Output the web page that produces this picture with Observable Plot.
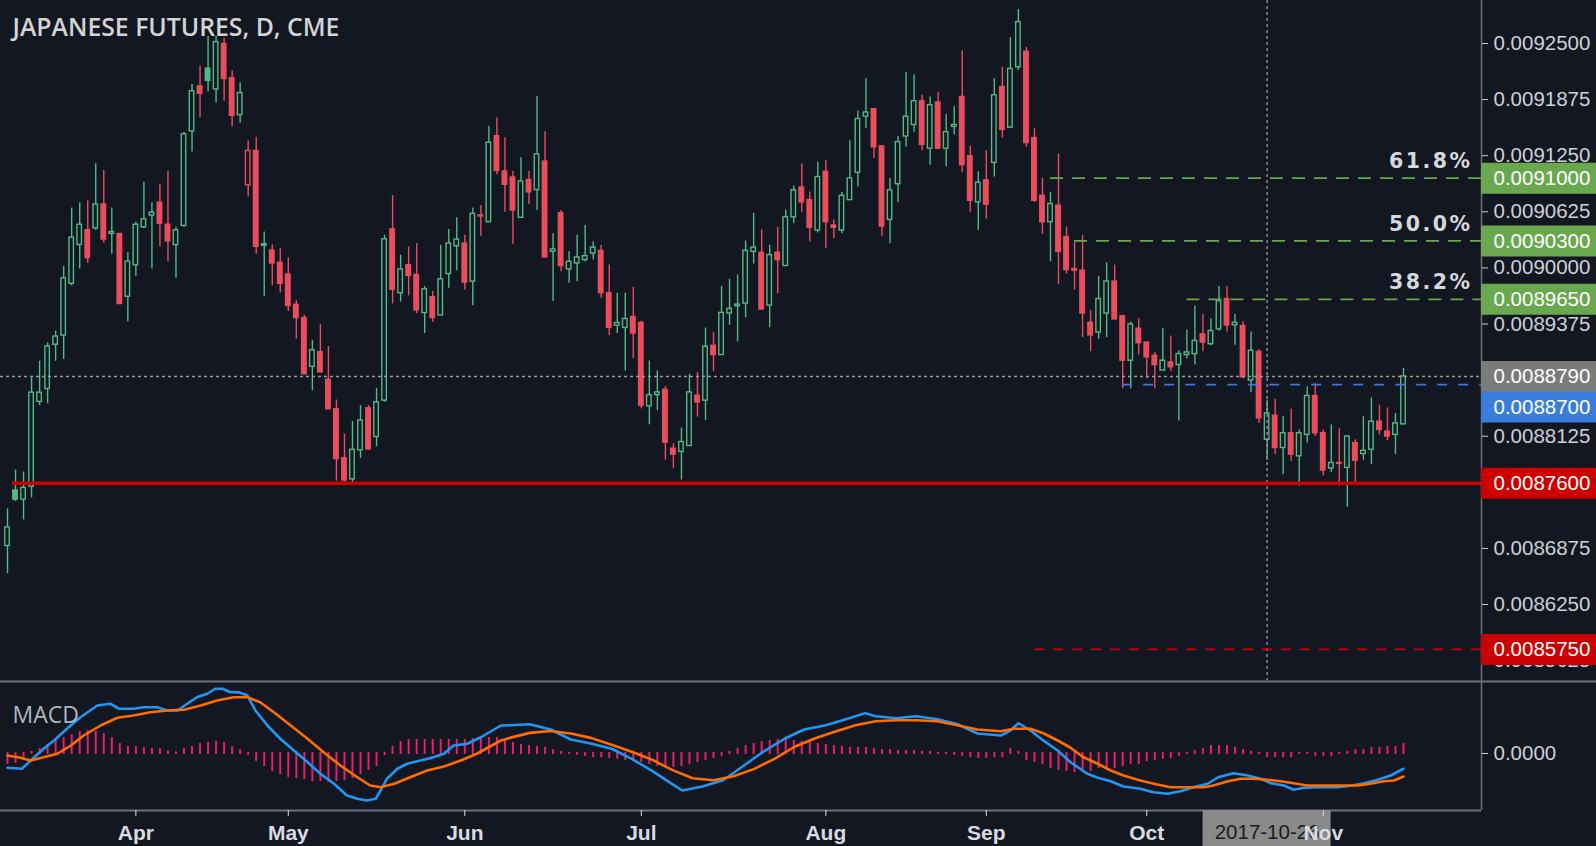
<!DOCTYPE html>
<html><head><meta charset="utf-8">
<script src="https://cdn.jsdelivr.net/npm/d3@7"></script>
<script src="https://cdn.jsdelivr.net/npm/@observablehq/plot@0.6"></script>
<style>
html,body{margin:0;padding:0;background:#131722;}
#chart{width:1596px;height:846px;overflow:hidden;background:#131722;}
#chart svg{display:block;max-width:none;}
.fib text{letter-spacing:2.5px;}
</style></head><body><div id="chart"></div>
<script>
// ---------- DATA ----------
const title = "JAPANESE FUTURES, D, CME";
const barOpen = [
0.0086902,0.0087520,0.0087418,0.0087562,0.0088507,0.0088651,0.0089144,0.0089247,0.0089823,0.0090255,
0.0090419,0.0090440,0.0090707,0.0090378,0.0090378,0.0089679,0.0090029,0.0090452,0.0090583,0.0090727,
0.0090481,0.0090255,0.0090468,0.0091521,0.0092022,0.0092220,0.0091989,0.0092495,0.0092113,0.0091702,
0.0090921,0.0091303,0.0090247,0.0090193,0.0090057,0.0089926,0.0089589,0.0089441,0.0088898,0.0089062,
0.0088754,0.0088425,0.0087878,0.0087644,0.0087968,0.0088436,0.0088116,0.0088521,0.0090429,0.0089718,
0.0090031,0.0089921,0.0089497,0.0089674,0.0089471,0.0089932,0.0090241,0.0090271,0.0089847,0.0090584,
0.0090510,0.0091468,0.0091074,0.0091007,0.0090558,0.0090978,0.0090868,0.0091184,0.0090179,0.0090610,
0.0089983,0.0090050,0.0090087,0.0090160,0.0090190,0.0089718,0.0089357,0.0089331,0.0089453,0.0089387,
0.0088458,0.0088583,0.0088642,0.0087986,0.0087950,0.0088016,0.0088576,0.0088521,0.0089132,0.0089029,
0.0089492,0.0089573,0.0089602,0.0090179,0.0090168,0.0089580,0.0090168,0.0090021,0.0090564,0.0090895,
0.0090755,0.0090417,0.0091071,0.0090472,0.0090417,0.0090755,0.0091060,0.0091685,0.0091769,0.0091354,
0.0090535,0.0090932,0.0091464,0.0091593,0.0091857,0.0091328,0.0091843,0.0091328,0.0091571,0.0091905,
0.0091244,0.0090730,0.0090975,0.0091170,0.0092015,0.0091563,0.0092235,0.0092408,0.0091446,0.0090803,
0.0090509,0.0090693,0.0090344,0.0089987,0.0089969,0.0089389,0.0089279,0.0089492,0.0089848,0.0089462,
0.0088966,0.0089323,0.0089168,0.0089021,0.0088856,0.0088947,0.0088918,0.0089029,0.0089040,0.0089260,
0.0089150,0.0089315,0.0089653,0.0089360,0.0089352,0.0088746,0.0089065,0.0088085,0.0088353,0.0087993,
0.0088158,0.0087901,0.0088140,0.0088573,0.0088158,0.0087765,0.0087827,0.0087772,0.0088048,0.0087926,
0.0087974,0.0088287,0.0088176,0.0088140,0.0088257];
const barHigh = [
0.0087315,0.0087747,0.0087726,0.0088774,0.0088960,0.0089165,0.0089296,0.0090016,0.0090666,0.0090727,
0.0090748,0.0091159,0.0091085,0.0090666,0.0090378,0.0090172,0.0090509,0.0090954,0.0090727,0.0090933,
0.0091077,0.0090452,0.0091508,0.0092043,0.0092248,0.0092577,0.0092577,0.0092557,0.0092195,0.0092064,
0.0091414,0.0091455,0.0090399,0.0090255,0.0090214,0.0090111,0.0089638,0.0089474,0.0089194,0.0089371,
0.0089124,0.0088528,0.0088149,0.0088289,0.0088466,0.0088466,0.0088657,0.0090363,0.0090805,0.0090142,
0.0090234,0.0090271,0.0089792,0.0089736,0.0090252,0.0090429,0.0090558,0.0090363,0.0090668,0.0090694,
0.0091578,0.0091671,0.0091450,0.0091074,0.0091228,0.0091074,0.0091910,0.0091516,0.0090381,0.0090639,
0.0090179,0.0090363,0.0090473,0.0090289,0.0090252,0.0090031,0.0089718,0.0089718,0.0089784,0.0089405,
0.0088963,0.0088852,0.0088679,0.0088042,0.0088215,0.0088815,0.0088834,0.0089331,0.0089279,0.0089793,
0.0089874,0.0089922,0.0090300,0.0090608,0.0090425,0.0090252,0.0090454,0.0090645,0.0090913,0.0091159,
0.0090847,0.0091178,0.0091196,0.0090535,0.0090840,0.0091416,0.0091747,0.0092107,0.0091769,0.0091354,
0.0090997,0.0091464,0.0092173,0.0092150,0.0091923,0.0091905,0.0091953,0.0091710,0.0091795,0.0092419,
0.0091354,0.0091071,0.0091306,0.0092107,0.0092235,0.0092566,0.0092878,0.0092456,0.0091549,0.0090998,
0.0090840,0.0091269,0.0090454,0.0090289,0.0090362,0.0089525,0.0089903,0.0090057,0.0090031,0.0089462,
0.0089396,0.0089433,0.0089168,0.0089058,0.0089323,0.0089242,0.0089077,0.0089308,0.0089573,0.0089481,
0.0089433,0.0089793,0.0089793,0.0089480,0.0089400,0.0089286,0.0089087,0.0088525,0.0088536,0.0088342,
0.0088426,0.0088195,0.0088672,0.0088709,0.0088195,0.0088250,0.0088206,0.0088133,0.0088085,0.0088342,
0.0088551,0.0088470,0.0088441,0.0088378,0.0088882];
const barLow = [
0.0086595,0.0087397,0.0087192,0.0087438,0.0088466,0.0088486,0.0088959,0.0088980,0.0089800,0.0089987,
0.0090049,0.0090419,0.0090275,0.0090152,0.0089597,0.0089400,0.0089905,0.0090440,0.0089987,0.0090234,
0.0090069,0.0089885,0.0090452,0.0091291,0.0091673,0.0091961,0.0091837,0.0091858,0.0091570,0.0091611,
0.0090789,0.0090152,0.0089679,0.0089802,0.0089720,0.0089515,0.0089206,0.0088815,0.0088631,0.0088836,
0.0088425,0.0087623,0.0087582,0.0087582,0.0087876,0.0087968,0.0088005,0.0088502,0.0089600,0.0089619,
0.0089689,0.0089490,0.0089269,0.0089394,0.0089471,0.0089773,0.0089969,0.0089755,0.0089578,0.0090352,
0.0090510,0.0091037,0.0090621,0.0090263,0.0090558,0.0090705,0.0090639,0.0090116,0.0089626,0.0089958,
0.0089829,0.0089847,0.0090068,0.0090087,0.0089663,0.0089247,0.0089269,0.0088852,0.0088992,0.0088429,
0.0088252,0.0088410,0.0087858,0.0087766,0.0087637,0.0088016,0.0088337,0.0088300,0.0088845,0.0089029,
0.0089360,0.0089176,0.0089444,0.0090043,0.0089536,0.0089334,0.0089712,0.0090021,0.0090491,0.0090619,
0.0090289,0.0090388,0.0090215,0.0090326,0.0090381,0.0090755,0.0090902,0.0091549,0.0091218,0.0090351,
0.0090270,0.0090730,0.0091343,0.0091512,0.0091306,0.0091145,0.0091328,0.0091123,0.0091483,0.0091060,
0.0090619,0.0090417,0.0090546,0.0091012,0.0091446,0.0091563,0.0092199,0.0091343,0.0090730,0.0090373,
0.0090068,0.0089815,0.0089932,0.0089756,0.0089224,0.0089066,0.0089205,0.0089224,0.0089426,0.0088654,
0.0088654,0.0089029,0.0088764,0.0088654,0.0088856,0.0088845,0.0088294,0.0088985,0.0088918,0.0089066,
0.0089132,0.0089297,0.0089286,0.0089139,0.0088764,0.0088610,0.0088268,0.0087857,0.0087920,0.0087699,
0.0087846,0.0087571,0.0088048,0.0088121,0.0087681,0.0087717,0.0087571,0.0087331,0.0087607,0.0087857,
0.0087809,0.0088140,0.0088074,0.0087919,0.0088257];
const barClose = [
0.0087109,0.0087418,0.0087549,0.0088610,0.0088610,0.0089124,0.0089235,0.0089884,0.0090337,0.0090481,
0.0090110,0.0090707,0.0090316,0.0090399,0.0089597,0.0090070,0.0090481,0.0090542,0.0090616,0.0090493,
0.0090296,0.0090419,0.0091488,0.0091969,0.0091940,0.0092084,0.0092516,0.0092105,0.0091694,0.0091948,
0.0091303,0.0090234,0.0090263,0.0090049,0.0089823,0.0089576,0.0089441,0.0088815,0.0089083,0.0088836,
0.0088425,0.0087870,0.0087632,0.0087973,0.0088300,0.0087979,0.0088502,0.0090319,0.0089755,0.0089983,
0.0089910,0.0089527,0.0089762,0.0089442,0.0089873,0.0090271,0.0090315,0.0089836,0.0090602,0.0090573,
0.0091394,0.0091081,0.0090926,0.0090639,0.0090963,0.0090842,0.0091265,0.0090116,0.0090205,0.0090020,
0.0090068,0.0090116,0.0090131,0.0090226,0.0089718,0.0089331,0.0089387,0.0089431,0.0089269,0.0088465,
0.0088583,0.0088613,0.0088053,0.0087920,0.0088060,0.0088613,0.0088502,0.0089121,0.0089029,0.0089499,
0.0089543,0.0089591,0.0090190,0.0090226,0.0089536,0.0090142,0.0090087,0.0090564,0.0090865,0.0090730,
0.0090447,0.0091012,0.0090509,0.0090447,0.0090803,0.0090998,0.0091659,0.0091732,0.0091343,0.0090461,
0.0090865,0.0091402,0.0091685,0.0091857,0.0091372,0.0091813,0.0091328,0.0091512,0.0091593,0.0091145,
0.0090748,0.0090950,0.0090704,0.0091923,0.0091538,0.0092217,0.0092739,0.0091391,0.0090748,0.0090509,
0.0090711,0.0090178,0.0089976,0.0089970,0.0089492,0.0089249,0.0089653,0.0089848,0.0089426,0.0088966,
0.0089370,0.0089161,0.0089003,0.0088918,0.0088966,0.0088893,0.0089040,0.0089058,0.0089187,0.0089168,
0.0089297,0.0089627,0.0089359,0.0089389,0.0088782,0.0089077,0.0088324,0.0088378,0.0087993,0.0088158,
0.0087920,0.0088158,0.0088573,0.0088158,0.0087743,0.0087827,0.0087816,0.0088121,0.0087853,0.0087963,
0.0088287,0.0088195,0.0088121,0.0088268,0.0088790];

// x axis (bar index of first bar of each month)
const monthIdx = [16, 35, 57, 79, 102, 122, 142, 164];
const monthLabels = ["Apr", "May", "Jun", "Jul", "Aug", "Sep", "Oct", "Nov"];
const crossIdx = 157;
const crossLabel = "2017-10-26";

// price axis
const priceTicks = [0.0092500,0.0091875,0.0091250,0.0090625,0.0090000,0.0089375,0.0088125,0.0086875,0.0086250,0.0085625];

// drawings
const fibValues = [0.00910, 0.00903, 0.008965];
const fibNames = ["61.8%", "50.0%", "38.2%"];
const fibStart = [130, 133, 147];
const lastPrice = 0.0088790;
const blueLevel = 0.0088700, blueStart = 139;
const supportLevel = 0.0087600, supportStart = 0.6;
const targetLevel = 0.0085750, targetStart = 128;

// MACD (units of 1e-6)
const macdX = [0,1.8,2.9,4.5,5.8,7.4,9.1,11.2,12.8,13.9,15.7,17,18.7,19.9,21.2,22.4,23.6,24.9,25.9,26.8,27.8,28.8,29.9,30.9,32.4,34,35.7,37.4,39,40.7,42.3,43.6,44.8,45.9,46.5,47.3,48.6,49.8,51.5,53.1,54.4,55.6,57.3,59,61.5,62.6,65.1,67.7,70.2,72.7,75.3,77.8,80.4,82.9,84.1,86.6,89.2,91.7,94.2,96.9,99.3,102,104.5,106.9,108.2,110.8,113.3,115.9,118.4,120.9,123.8,125,126,127.5,129.1,130.9,132.5,134.6,135.9,137.5,139.1,141.2,142.8,144.6,146.2,147.8,149.6,150.9,152.8,154.6,156.2,157.5,159.1,160.3,161.6,163.7,165.8,167.4,169.1,170.8,172.4,174];
const macdY = [-11.4,-12.2,-5.6,3.8,10.4,19.8,29,38.4,39.8,35.8,35.8,37,37,34.4,34.4,39.8,45,47.8,51.8,51.8,49,49,46.4,34.4,22.4,11.8,2.4,-7,-16.2,-24.2,-33.6,-36.2,-37.6,-36.2,-29.6,-20.2,-12.2,-8.2,-5.6,-3,-0.2,6.4,7.8,13,22.4,22.6,23.4,19.2,11.2,8,3.8,-4.3,-14.1,-24.7,-29.6,-26.4,-21.4,-10,1.4,12,19.2,22.6,27.4,32.3,29.8,28.2,29.8,27.4,23.4,16,14.4,18.4,24.2,18.4,10.4,2.4,-7,-16.2,-19.4,-22.2,-26.4,-28.2,-31,-32.2,-30.2,-27,-24.2,-19,-15.8,-17.6,-20.2,-23.8,-25.6,-29,-27.4,-27,-27,-25.8,-23.8,-21,-17.6,-12.2];
const signalX = [0,1.6,2.9,4.5,6.2,7.9,9.5,11.6,13.7,15.7,17.8,19.9,22,24.1,26.1,28.2,29.9,31.5,33.2,35.3,37.4,39.4,41.5,43.6,45.2,46.5,48.2,50.2,52.3,54.4,56.5,58.5,61.5,62.6,65.1,67.7,70.2,72.7,75.3,77.8,80.4,82.9,85.4,88,90.5,93,95.6,98.1,100.6,103.2,105.7,108.2,110.8,113.3,115.9,118.4,120.9,123.8,125.4,127.5,129.1,130.9,132.5,134.1,135.9,137.5,139.1,141.2,143.3,145,147.1,149.1,150.3,152.1,153.7,155.3,157.1,158.7,160.3,162,164,166.2,168.3,169.9,171.5,172.8,174];
const signalY = [-1.6,-3.4,-5.6,-3,-0.2,6.4,14.4,22.4,28.6,30.4,33,34.4,35,38.4,42.4,45,45,41,33,22.4,11.8,1,-9.6,-19,-25.6,-27,-24.2,-19,-13.6,-10.4,-5.6,-0.2,10.4,12.5,16.5,18,16,12.5,7,1.4,-5.1,-13.3,-19.8,-21.4,-18.2,-12.5,-4.3,5.4,12,17.6,22.6,25.8,26.6,26.6,25.8,22.6,19.2,17.8,19.8,19.8,16.2,10.4,4.6,-3,-8.2,-13.6,-17.6,-21.6,-24.8,-27,-27,-27,-25.6,-22.2,-20.2,-20.2,-21,-22.2,-23.8,-25.6,-25.6,-25.6,-25.6,-24.2,-22.2,-21.6,-18.4];
const histogram = [
-8,-7.2,-2.4,0.8,3.2,6.4,9.6,12,14.4,16.8,17.6,16.8,15.2,12,7.2,4.8,4.8,4,3.2,3.2,
1.2,0.4,3.2,4.8,7.2,8,8.8,8,4.8,2.4,-0.8,-5.6,-9.6,-13.6,-16,-18.4,-19.2,-20,-21.6,-21.6,
-22.4,-21.6,-20.8,-19.2,-16,-12.8,-9.6,-0.8,4.8,8.8,10.4,10.4,10.4,10.4,10.4,10.4,10.4,10.4,11.2,12,
12,12,9.6,8,6.4,5.6,4.8,4,2.4,0.8,0,-0.8,-1.6,-2.4,-2.4,-3.2,-4,-4.8,-5.6,-6.4,
-8,-9.6,-9.6,-10.4,-9.6,-8,-6.4,-4.8,-3.2,-1.6,0.8,3.2,5.6,7.2,8.8,9.6,10.4,10.4,9.6,8.8,
8,7.2,6.4,5.6,4.8,4,4,4,3.2,2.4,2.4,1.6,1.6,1.6,0.8,0.8,0,0,-0.8,-1.6,
-2.4,-3.2,-3.2,-2.4,-2.4,3.2,0.8,-4.8,-6.4,-8,-11.2,-12.8,-13.6,-14.4,-14.4,-13.6,-11.2,-10.4,-11.2,-9.6,
-8,-8,-5.6,-4.8,-4,-3.2,-1.6,0,1.6,3.2,5.6,5.6,5.6,4,2.4,0.8,0,-2.4,-2.4,-2.4,
-2.4,0,0,-1.6,-1.6,-1.6,0,0.8,2.4,2.4,4,4,4.8,4.8,7.2];

// ---------- STYLE / LAYOUT ----------
const W = 1596, mainH = 680, macdH = 166, RM = 115;
const BG = "#131722", UP = "#53b987", DOWN = "#eb4d5c";
const AXIS = "#6f727c", TEXT = "#cdd0d6", FIB = "#6aa84f";
const firstBarX = 7, barStep = 8.023;
const xDomain = [-firstBarX / barStep, (W - RM - firstBarX) / barStep];
const xOut = (W - firstBarX) / barStep;
const yDomain = [0.00854033, 0.00929791];
const macdDomain = [-45.6, 58.4];
const macdUnitPerPx = (macdDomain[1] - macdDomain[0]) / (macdH - 36);
const fontAxis = "'Liberation Sans', Arial, sans-serif";

const candles = barOpen.map((o, i) => {
  const c = barClose[i], prev = i ? barClose[i - 1] : o;
  return {i, o, h: barHigh[i], l: barLow[i], c, hollow: c > o, col: c >= prev ? UP : DOWN};
});
const fibs = fibValues.map((v, k) => ({v, name: fibNames[k], start: fibStart[k]}));
const boxes = [
  {v: fibValues[0], fill: "#6aa84f"}, {v: fibValues[1], fill: "#6aa84f"}, {v: fibValues[2], fill: "#6aa84f"},
  {v: lastPrice, fill: "#7b7b7b"}, {v: supportLevel, fill: "#cc0000"}, {v: targetLevel, fill: "#cc0000"}
];
const fmt7 = d => d.toFixed(7);

const main = Plot.plot({
  width: W, height: mainH, marginTop: 0, marginBottom: 0, marginLeft: 0, marginRight: RM,
  style: {background: BG, color: TEXT, fontFamily: fontAxis, fontSize: "20.5px"},
  x: {domain: xDomain, axis: null},
  y: {domain: yDomain, axis: null},
  color: {type: "identity"},
  marks: [
    Plot.ruleX(candles, {x: "i", y1: "l", y2: "h", stroke: "col", strokeWidth: 1.4}),
    Plot.rect(candles, {x1: d => d.i - 0.28, x2: d => d.i + 0.28, y1: d => Math.min(d.o, d.c), y2: d => Math.max(d.o, d.c),
      fill: d => d.hollow ? BG : d.col, stroke: "col", strokeWidth: 1.4}),
    Plot.ruleY([lastPrice], {stroke: "#9a9a9a", strokeWidth: 1.3, strokeDasharray: "3,3"}),
    Plot.ruleX([crossIdx], {stroke: "#9a9a9a", strokeWidth: 1.3, strokeDasharray: "3,3"}),
    Plot.ruleY([supportLevel], {x1: supportStart, x2: xDomain[1], stroke: "#d00000", strokeWidth: 3.5}),
    Plot.ruleY([targetLevel], {x1: targetStart, x2: xDomain[1], stroke: "#d00000", strokeWidth: 1.8, strokeDasharray: "10,9"}),
    Plot.ruleY([blueLevel], {x1: blueStart, x2: xDomain[1], stroke: "#3c78d8", strokeWidth: 1.8, strokeDasharray: "10,11"}),
    Plot.ruleY(fibs, {y: "v", x1: "start", x2: xDomain[1], stroke: FIB, strokeWidth: 1.8, strokeDasharray: "13,9"}),
    Plot.ruleX([xDomain[1]], {stroke: AXIS, strokeWidth: 1.5}),
    Plot.axisY({anchor: "right", ticks: priceTicks, tickFormat: fmt7, tickSize: 6, tickPadding: 6, fontSize: 20.5, color: TEXT}),
    Plot.ruleY(boxes, {y: "v", x1: xDomain[1], x2: xOut, stroke: "fill", strokeWidth: 31}),
    Plot.ruleY([blueLevel], {x1: xDomain[1], x2: xOut, stroke: "#3b7ddd", strokeWidth: 31, dy: 22.5}),
    Plot.text(boxes, {y: "v", x: xDomain[1], text: d => fmt7(d.v), textAnchor: "start", dx: 12, fill: "#ffffff", fontSize: 20.5}),
    Plot.text([blueLevel], {y: d => d, x: xDomain[1], text: fmt7, textAnchor: "start", dx: 12, dy: 22.5, fill: "#ffffff", fontSize: 20.5}),
    Plot.text(fibs, {y: "v", text: "name", frameAnchor: "right", textAnchor: "end", dx: -9, dy: -17, fill: "#d6d8dc",
      fontSize: 20.5, fontWeight: "bold", fontFamily: "'DejaVu Sans', sans-serif", className: "fib"}),
    Plot.text([title], {frameAnchor: "top-left", dx: 12, dy: 28, lineAnchor: "middle", textAnchor: "start",
      fontSize: 24.8, fontWeight: 600, fontFamily: "'Open Sans', sans-serif", fill: "#d4d4d4"})
  ]
});

const macdLine = macdX.map((x, k) => ({x, y: macdY[k]}));
const signalLine = signalX.map((x, k) => ({x, y: signalY[k]}));
const hist = histogram.map((v, i) => ({i, v}));

const macd = Plot.plot({
  width: W, height: macdH, marginTop: 0, marginBottom: 36, marginLeft: 0, marginRight: RM,
  style: {background: BG, color: TEXT, fontFamily: fontAxis, fontSize: "20.5px"},
  x: {domain: xDomain, axis: null},
  y: {domain: macdDomain, axis: null},
  marks: [
    Plot.ruleY([macdDomain[1]], {x1: xDomain[0], x2: xOut, stroke: AXIS, strokeWidth: 2, dy: 1}),
    Plot.ruleY([macdDomain[0]], {x1: xDomain[0], x2: xDomain[1], stroke: AXIS, strokeWidth: 2}),
    Plot.ruleX([xDomain[1]], {stroke: AXIS, strokeWidth: 1.5}),
    Plot.ruleX(hist, {x: "i", y1: 0, y2: "v", stroke: "#ec1c6c", strokeWidth: 2, strokeLinecap: "square"}),
    Plot.line(macdLine, {x: "x", y: "y", stroke: "#2196f3", strokeWidth: 2.6}),
    Plot.line(signalLine, {x: "x", y: "y", stroke: "#ff6d00", strokeWidth: 2.6}),
    Plot.text(["MACD"], {frameAnchor: "top-left", dx: 12, dy: 35, lineAnchor: "middle", textAnchor: "start",
      fontSize: 23, fontFamily: "'Open Sans', sans-serif", fill: "#b2b5be"}),
    Plot.axisY({anchor: "right", ticks: [0], tickFormat: d => (d * 1e-6).toFixed(4), tickSize: 6, tickPadding: 6, fontSize: 20.5, color: TEXT}),
    Plot.rect([crossIdx], {x1: d => d - 64 / barStep, x2: d => d + 64 / barStep,
      y1: macdDomain[0], y2: macdDomain[0] - 36 * macdUnitPerPx, fill: "#8a8a8a"}),
    Plot.text([crossLabel], {x: crossIdx, y: macdDomain[0] - 22 * macdUnitPerPx, text: d => d, fill: "#1b1b1b",
      fontSize: 20.5, lineAnchor: "middle"}),
    Plot.axisX({anchor: "bottom", ticks: monthIdx, tickFormat: d => monthLabels[monthIdx.indexOf(d)],
      tickSize: 6, tickPadding: 9, fontSize: 21, fontWeight: "bold", color: "#d9dbe0"})
  ]
});

const root = document.getElementById("chart");
root.appendChild(main);
root.appendChild(macd);
</script></body></html>
